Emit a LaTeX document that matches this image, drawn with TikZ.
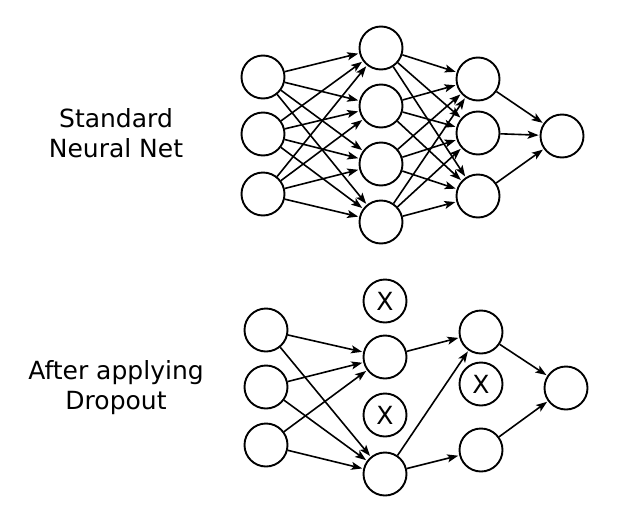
\documentclass[tikz,border=0pt]{standalone}
\usepackage{fontspec}
\setmainfont{DejaVu Sans}
\usetikzlibrary{positioning,arrows.meta}

\begin{document}
\begin{tikzpicture}[x=1pt,y=-1pt,auto]
    \tikzstyle{every node}=[inner sep=0]
    \tikzstyle{unit}=[draw,circle,fill=white,line width=1.9,minimum size=43]
    \tikzstyle{dropped}=[unit,font=\fontsize{25}{25}\selectfont]
    \tikzstyle{note}=[align=center,font=\fontsize{25}{30}\selectfont]
    \tikzstyle{link}=[-{Stealth[length=11pt,width=8pt,inset=2.5pt]},line width=1.6,shorten >=1pt]
    \useasboundingbox (0,0) rectangle (624,517);
    {
        % standard net
        \node[note] (labeltop) at (116, 133) {Standard\\Neural Net};

        \node[unit] (ta1) at (263, 77) {};
        \node[unit] (ta2) at (263, 134) {};
        \node[unit] (ta3) at (263, 194) {};

        \node[unit] (tb1) at (381, 48) {};
        \node[unit] (tb2) at (381, 106) {};
        \node[unit] (tb3) at (381, 164) {};
        \node[unit] (tb4) at (381, 222) {};

        \node[unit] (tc1) at (478, 79) {};
        \node[unit] (tc2) at (478, 133) {};
        \node[unit] (tc3) at (478, 196) {};

        \node[unit] (td) at (562, 136) {};

        \path[link]
            (ta1) edge (tb1) (ta1) edge (tb2) (ta1) edge (tb3) (ta1) edge (tb4)
            (ta2) edge (tb1) (ta2) edge (tb2) (ta2) edge (tb3) (ta2) edge (tb4)
            (ta3) edge (tb1) (ta3) edge (tb2) (ta3) edge (tb3) (ta3) edge (tb4);
        \path[link]
            (tb1) edge (tc1) (tb1) edge (tc2) (tb1) edge (tc3)
            (tb2) edge (tc1) (tb2) edge (tc2) (tb2) edge (tc3)
            (tb3) edge (tc1) (tb3) edge (tc2) (tb3) edge (tc3)
            (tb4) edge (tc1) (tb4) edge (tc2) (tb4) edge (tc3);
        \path[link]
            (tc1) edge (td) (tc2) edge (td) (tc3) edge (td);

        % after dropout
        \node[note] (labelbot) at (116, 388) {After applying\\Dropout};

        \node[unit] (ba1) at (266, 330) {};
        \node[unit] (ba2) at (266, 387) {};
        \node[unit] (ba3) at (266, 445) {};

        \node[dropped] (bb1) at (385, 301) {X};
        \node[unit] (bb2) at (385, 357) {};
        \node[dropped] (bb3) at (385, 415) {X};
        \node[unit] (bb4) at (385, 474) {};

        \node[unit] (bc1) at (481, 332) {};
        \node[dropped] (bc2) at (481, 384) {X};
        \node[unit] (bc3) at (481, 450) {};

        \node[unit] (bd) at (566, 388) {};

        \path[link]
            (ba1) edge (bb2) (ba1) edge (bb4)
            (ba2) edge (bb2) (ba2) edge (bb4)
            (ba3) edge (bb2) (ba3) edge (bb4)
            (bb2) edge (bc1)
            (bb4) edge (bc1) (bb4) edge (bc3)
            (bc1) edge (bd) (bc3) edge (bd);
    }
\end{tikzpicture}
\end{document}
